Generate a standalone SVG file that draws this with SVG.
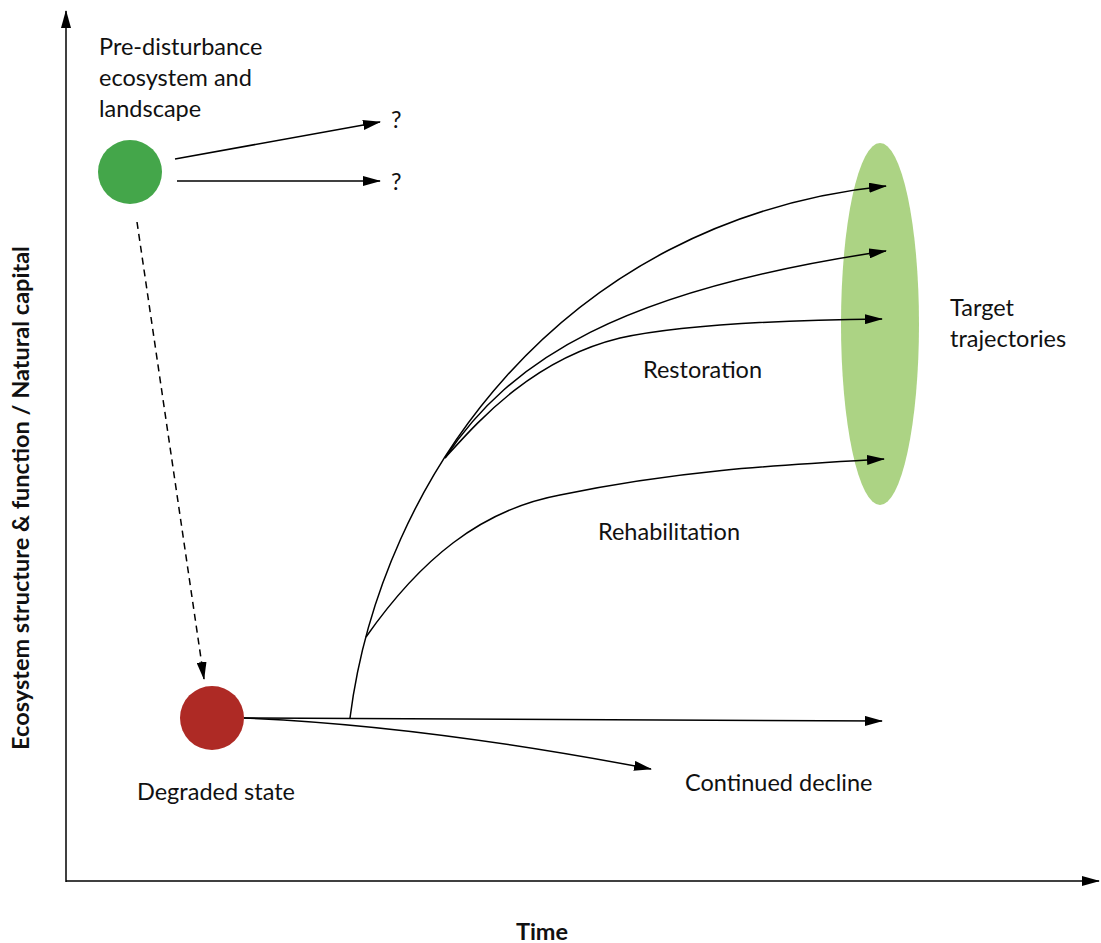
<svg xmlns="http://www.w3.org/2000/svg" width="1101" height="943" viewBox="0 0 1101 943">
  <style>
    .lbl { font-family: Lato, "Noto Sans", sans-serif; font-size: 23.5px; fill: #111; }
    .axis-lbl { font-family: Lato, "Noto Sans", sans-serif; font-size: 23.5px; font-weight: bold; fill: #111; }
    .ln { fill: none; stroke: #000; stroke-width: 1.5; }
    .arr { marker-end: url(#head); }
  </style>
  <defs>
    <marker id="head" viewBox="0 0 18 10" refX="17" refY="5" markerWidth="18" markerHeight="10" markerUnits="userSpaceOnUse" orient="auto">
      <path d="M0,0 L18,5 L0,10 Z" fill="#000"/>
    </marker>
  </defs>

  <rect width="1101" height="943" fill="#fff"/>

  <!-- axes -->
  <g id="axes">
    <line class="ln arr" x1="66" y1="882" x2="66" y2="11"/>
    <line class="ln arr" x1="66" y1="881" x2="1099" y2="881"/>
    <text class="axis-lbl" x="542" y="940" text-anchor="middle">Time</text>
    <text class="axis-lbl" transform="translate(29,498) rotate(-90)" text-anchor="middle">Ecosystem structure &amp; function / Natural capital</text>
  </g>

  <!-- target zone -->
  <g id="target">
    <ellipse cx="880" cy="324" rx="39" ry="181" fill="#acd384"/>
    <text class="lbl" x="950" y="316">Target</text>
    <text class="lbl" x="950" y="347">trajectories</text>
  </g>

  <!-- pre-disturbance state -->
  <g id="pre-disturbance">
    <circle cx="130" cy="172" r="32" fill="#44a64a"/>
    <text class="lbl" x="99" y="55">Pre-disturbance</text>
    <text class="lbl" x="99" y="86">ecosystem and</text>
    <text class="lbl" x="99" y="117">landscape</text>
  </g>

  <!-- degraded state -->
  <g id="degraded">
    <circle cx="212" cy="718" r="32" fill="#ae2a25"/>
    <text class="lbl" x="137" y="800">Degraded state</text>
  </g>

  <!-- outcome labels -->
  <g id="outcomes">
    <text class="lbl" x="391" y="128">?</text>
    <text class="lbl" x="391" y="190">?</text>
    <text class="lbl" x="643" y="378">Restoration</text>
    <text class="lbl" x="598" y="540">Rehabilitation</text>
    <text class="lbl" x="685" y="791">Continued decline</text>
  </g>

  <!-- trajectories -->
  <g id="connectors">
    <line class="ln arr" x1="175" y1="159" x2="380" y2="122"/>
    <line class="ln arr" x1="177" y1="181" x2="380" y2="181"/>
    <line class="ln arr" x1="137" y1="222" x2="204" y2="679" stroke-dasharray="7,5"/>
    <line class="ln arr" x1="244" y1="718" x2="882" y2="721"/>
    <path class="ln arr" d="M244,718 Q420,725 651,769"/>
    <path class="ln arr" d="M350,718 C380,480 560,220 886,186"/>
    <path class="ln arr" d="M445,458 C510,360 620,290 886,251"/>
    <path class="ln arr" d="M445,458 C475,425 530,360 620,338 C680,325 780,320 882,319"/>
    <path class="ln arr" d="M366,637 C420,560 480,510 560,495 C680,470 780,465 884,459"/>
  </g>
</svg>
